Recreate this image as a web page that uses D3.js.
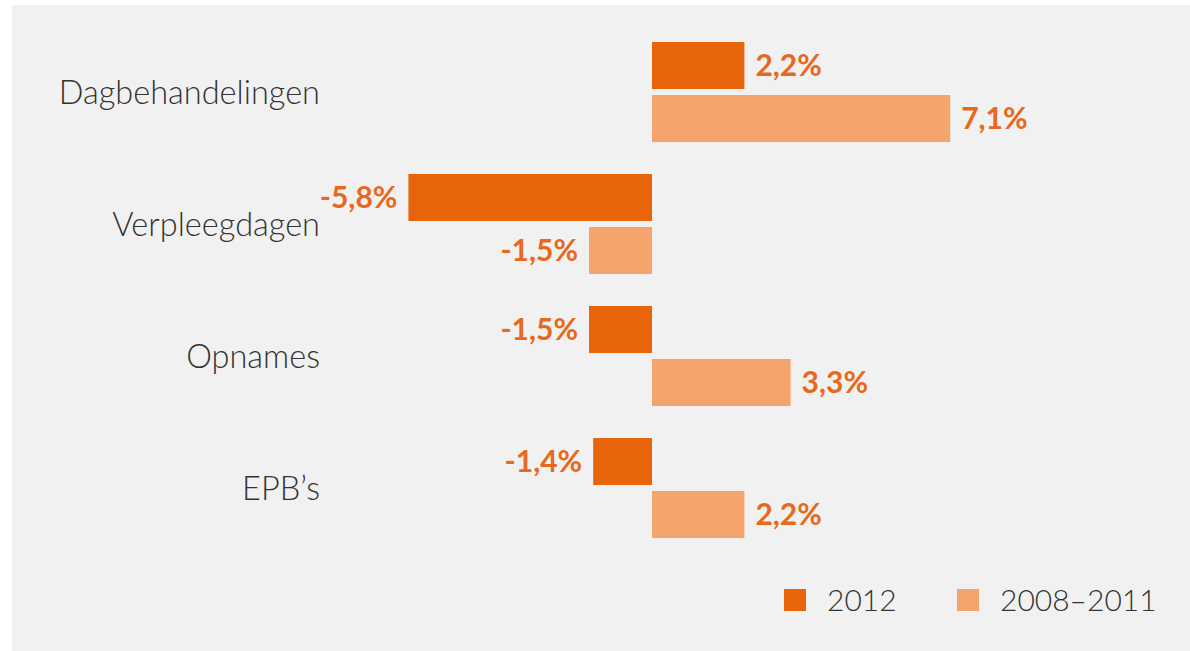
<!DOCTYPE html>
<html>
<head>
<meta charset="utf-8">
<script src="https://cdn.jsdelivr.net/npm/d3@7"></script>
<style>
  html, body { margin: 0; padding: 0; background: #fff; }
  svg { display: block; }
  .cat { font-family: Lato, sans-serif; font-weight: 300; fill: #333; }
  .val { font-family: Lato, sans-serif; font-weight: 700; fill: #e8681c; }
  .leg { font-family: Lato, sans-serif; font-weight: 300; fill: #333; }
</style>
</head>
<body>
<svg width="1190" height="651"></svg>
<script>
const CATEGORIES = ['Dagbehandelingen', 'Verpleegdagen', 'Opnames', "EPB\u2019s"]
const SERIES = ['2012', '2008\u20132011']
const VALUES_2012 = [2.2, -5.8, -1.5, -1.4]
const VALUES_0811 = [7.1, -1.5, 3.3, 2.2]
const COLORS = ['#e8640a', '#f5a56c']

const rows = []
CATEGORIES.forEach((c, i) => {
  rows.push({ cat: c, series: SERIES[0], value: VALUES_2012[i] })
  rows.push({ cat: c, series: SERIES[1], value: VALUES_0811[i] })
})

const svg = d3.select('svg')

// grey panel
svg.append('rect')
  .attr('x', 12).attr('y', 5)
  .attr('width', 1178).attr('height', 646)
  .attr('fill', '#f1f1f1')

const xScale = d3.scaleLinear().domain([-6, 7.5]).range([400, 967])
const yScale = d3.scaleBand()
  .domain(CATEGORIES)
  .range([42, 538])
  .paddingInner(32 / 132)
const ySub = d3.scaleBand()
  .domain(SERIES)
  .range([0, yScale.bandwidth()])
  .paddingInner(6 / 53)
const color = d3.scaleOrdinal().domain(SERIES).range(COLORS)

const fmt = v => d3.format('.1f')(v).replace('.', ',').replace('\u2212', '-') + '%'

// bars
svg.selectAll('.bar')
  .data(rows)
  .enter()
  .append('rect')
  .classed('bar', true)
  .attr('x', d => xScale(Math.min(0, d.value)))
  .attr('width', d => Math.abs(xScale(d.value) - xScale(0)))
  .attr('y', d => yScale(d.cat) + ySub(d.series))
  .attr('height', ySub.bandwidth())
  .attr('fill', d => color(d.series))

// value labels
svg.selectAll('.val')
  .data(rows)
  .enter()
  .append('text')
  .classed('val', true)
  .attr('x', d => d.value < 0 ? xScale(d.value) - 11 : xScale(d.value) + 11)
  .attr('y', d => yScale(d.cat) + ySub(d.series) + ySub.bandwidth() / 2)
  .attr('dy', '0.36em')
  .attr('text-anchor', d => d.value < 0 ? 'end' : 'start')
  .style('font-size', '30px')
  .text(d => fmt(d.value))

// category labels
svg.selectAll('.cat')
  .data(CATEGORIES)
  .enter()
  .append('text')
  .classed('cat', true)
  .attr('x', 320)
  .attr('y', d => yScale(d) + yScale.bandwidth() / 2)
  .attr('dy', '0.36em')
  .attr('text-anchor', 'end')
  .style('font-size', '32.5px')
  .text(d => d)

// legend
const legendX = [784, 957]
const legend = svg.selectAll('.legend')
  .data(SERIES)
  .enter()
  .append('g')
  .classed('legend', true)
  .attr('transform', (d, i) => `translate(${legendX[i]},589)`)
legend.append('rect')
  .attr('width', 22).attr('height', 22)
  .attr('fill', d => color(d))
legend.append('text')
  .classed('leg', true)
  .attr('x', 43)
  .attr('y', 11)
  .attr('dy', '0.36em')
  .style('font-size', '30px')
  .text(d => d)
</script>
</body>
</html>
